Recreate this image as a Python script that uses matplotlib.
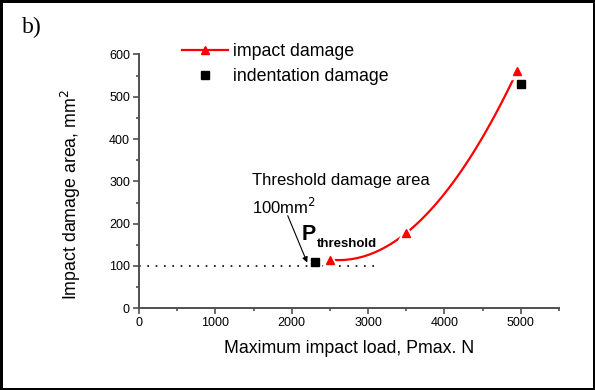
import matplotlib.pyplot as plt
import numpy as np
from matplotlib.lines import Line2D

plt.rcParams['font.family'] = ['Liberation Sans', 'DejaVu Sans']

# impact damage (red triangles, smooth curve)
impact_load = [2500, 3500, 4950]
impact_area = [115, 178, 560]
# indentation damage (black squares)
indent_load = [2300, 5000]
indent_area = [110, 530]
threshold_area = 100

fig = plt.figure(figsize=(5.95, 3.9), dpi=100, linewidth=2.5, edgecolor='black')
ax = fig.add_axes([0.2336, 0.2095, 0.7059, 0.6508])

# smooth line through the impact points (quadratic through the three points)
coef = np.polyfit(impact_load, impact_area, 2)
xs = np.linspace(impact_load[0], impact_load[-1], 300)
ax.plot(xs, np.polyval(coef, xs), color='red', lw=1.6, zorder=2)

# threshold dotted line
ax.plot([0, 3100], [threshold_area, threshold_area], color='black', lw=1.2,
        linestyle=(0, (1, 4)), zorder=1)

# white halo so the curve breaks around the markers
ax.plot(impact_load, impact_area, ls='none', marker='^', ms=11, color='white',
        mec='white', zorder=3)
ax.plot(impact_load, impact_area, ls='none', marker='^', ms=5.5, color='red',
        mec='red', zorder=4)
ax.plot(indent_load, indent_area, ls='none', marker='s', ms=6, color='black',
        zorder=4)

ax.set_xlim(0, 5500)
ax.set_ylim(0, 600)
ax.set_xticks([0, 1000, 2000, 3000, 4000, 5000])
ax.set_xticks(np.arange(500, 5501, 1000), minor=True)
ax.set_yticks([0, 100, 200, 300, 400, 500, 600])
ax.set_yticks(np.arange(50, 600, 100), minor=True)
for s in ['top', 'right']:
    ax.spines[s].set_visible(False)
for s in ['left', 'bottom']:
    ax.spines[s].set_color('#505050')
    ax.spines[s].set_linewidth(1.4)
ax.tick_params(which='major', direction='out', length=4, width=1.2,
               color='#505050', labelsize=9, pad=2.5)
ax.tick_params(which='minor', direction='out', length=2.2, width=1.2,
               color='#505050')

ax.set_xlabel('Maximum impact load, Pmax. N', fontsize=12.8, labelpad=8)
ax.set_ylabel('Impact damage area, mm$^2$', fontsize=12.8)
ax.yaxis.label.set_va('center')
ax.yaxis.set_label_coords(-0.162, 0.45)

ax.text(1476, 292, 'Threshold damage area', fontsize=12, va='baseline')
ax.text(1480, 224, '100mm$^2$', fontsize=12, va='baseline')
ax.annotate('', xy=(2217, 102), xytext=(1934, 225),
            arrowprops=dict(arrowstyle='-|>', color='black', lw=0.8,
                            mutation_scale=8))
ax.text(2131, 161, 'P', fontsize=15.5, fontweight='bold', va='baseline')
ax.text(2327, 146, 'threshold', fontsize=9.5, fontweight='bold', va='baseline')

handles = [Line2D([], [], color='red', lw=1.6, marker='^', ms=5.5),
           Line2D([], [], ls='none', color='black', marker='s', ms=6)]
ax.legend(handles, ['impact damage', 'indentation damage'], loc='upper left',
          bbox_to_anchor=(0.1017, 1.044), frameon=False, fontsize=12.8,
          handlelength=2.62, handletextpad=0.25, labelspacing=0.44,
          borderpad=0, borderaxespad=0, numpoints=1)

fig.text(0.037, 0.93, 'b)', fontsize=17, family='Liberation Serif', va='center')

fig.savefig('out.png', dpi=100)
